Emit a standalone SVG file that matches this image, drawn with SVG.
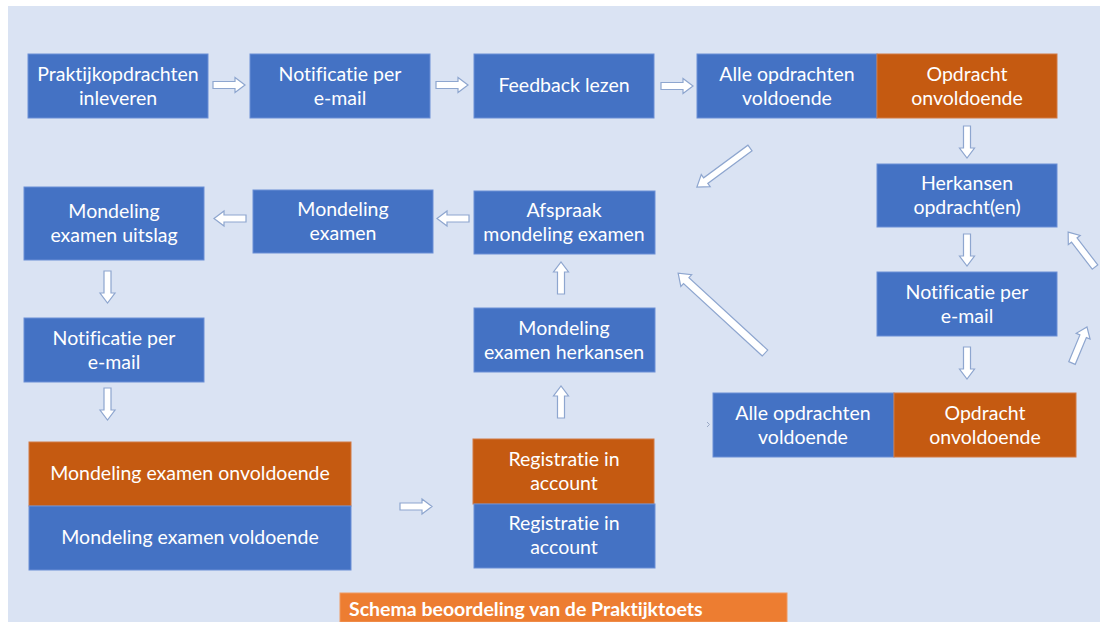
<svg xmlns="http://www.w3.org/2000/svg" width="1100" height="622" viewBox="0 0 1100 622">
<style>
text{font-variant-ligatures:none;font-feature-settings:"liga" 0,"dlig" 0}
.b{fill:#4472c4;stroke:#6b8fd6;stroke-width:1}
.o{fill:#c55a11;stroke:#d27a45;stroke-width:1}
.t{font-family:Lato,"Open Sans","Liberation Sans",sans-serif;font-size:19.5px;fill:#ffffff;text-anchor:middle}
.a{fill:#ffffff;stroke:#8ea6cf;stroke-width:1.2;stroke-linejoin:miter}
</style>
<defs>
<path id="ar" d="M0,-3.5 H22 V-7.5 L32,0 L22,7.5 V3.5 H0 Z"/>
</defs>
<rect x="0" y="0" width="1100" height="622" fill="#ffffff"/>
<rect x="8" y="6" width="1092" height="616" fill="#dae3f3"/>

<g id="n1"><rect class="b" x="28" y="54" width="180" height="64"/><text class="t" x="118" y="81">Praktijkopdrachten</text><text class="t" x="118" y="105">inleveren</text></g>
<g id="n2"><rect class="b" x="250" y="54" width="180" height="64"/><text class="t" x="340" y="81">Notificatie per</text><text class="t" x="340" y="105">e-mail</text></g>
<g id="n3"><rect class="b" x="474" y="54" width="180" height="64"/><text class="t" x="564" y="92">Feedback lezen</text></g>
<g id="n4"><rect class="b" x="697" y="54" width="180" height="64"/><text class="t" x="787" y="81">Alle opdrachten</text><text class="t" x="787" y="105">voldoende</text></g>
<g id="n5"><rect class="o" x="877" y="54" width="180" height="64"/><text class="t" x="967" y="81">Opdracht</text><text class="t" x="967" y="105">onvoldoende</text></g>
<g id="n6"><rect class="b" x="877" y="164" width="180" height="63"/><text class="t" x="967" y="190">Herkansen</text><text class="t" x="967" y="214">opdracht(en)</text></g>
<g id="n7"><rect class="b" x="877" y="272" width="180" height="64"/><text class="t" x="967" y="299">Notificatie per</text><text class="t" x="967" y="323">e-mail</text></g>
<g id="n8"><rect class="b" x="713" y="393" width="181" height="64"/><text class="t" x="803" y="420">Alle opdrachten</text><text class="t" x="803" y="444">voldoende</text></g>
<g id="n9"><rect class="o" x="894" y="393" width="182" height="64"/><text class="t" x="985" y="420">Opdracht</text><text class="t" x="985" y="444">onvoldoende</text></g>
<g id="n10"><rect class="b" x="474" y="191" width="181" height="63"/><text class="t" x="564" y="217">Afspraak</text><text class="t" x="564" y="241">mondeling examen</text></g>
<g id="n11"><rect class="b" x="253" y="190" width="180" height="63"/><text class="t" x="343" y="216">Mondeling</text><text class="t" x="343" y="240">examen</text></g>
<g id="n12"><rect class="b" x="24" y="187" width="180" height="73"/><text class="t" x="114" y="218">Mondeling</text><text class="t" x="114" y="242">examen uitslag</text></g>
<g id="n13"><rect class="b" x="474" y="308" width="181" height="64"/><text class="t" x="564" y="335">Mondeling</text><text class="t" x="564" y="359">examen herkansen</text></g>
<g id="n14"><rect class="b" x="24" y="318" width="180" height="64"/><text class="t" x="114" y="345">Notificatie per</text><text class="t" x="114" y="369">e-mail</text></g>
<g id="n15"><rect class="o" x="29" y="442" width="322" height="64"/><text class="t" x="190" y="480">Mondeling examen onvoldoende</text></g>
<g id="n16"><rect class="b" x="29" y="506" width="322" height="64"/><text class="t" x="190" y="544">Mondeling examen voldoende</text></g>
<g id="n17"><rect class="o" x="473" y="439" width="181" height="65"/><text class="t" x="564" y="466">Registratie in</text><text class="t" x="564" y="490">account</text></g>
<g id="n18"><rect class="b" x="474" y="504" width="181" height="64"/><text class="t" x="564" y="530">Registratie in</text><text class="t" x="564" y="554">account</text></g>
<g id="title"><rect x="340" y="593" width="447" height="29" fill="#ed7d31" stroke="#f09a60" stroke-width="1"/><text x="349" y="616" font-family="Lato,'Open Sans','Liberation Sans',sans-serif" font-size="19.5" font-weight="bold" fill="#ffffff">Schema beoordeling van de Praktijktoets</text></g>

<g id="connectors">
<use href="#ar" class="a" transform="translate(213,85)"/>
<use href="#ar" class="a" transform="translate(436,85)"/>
<use href="#ar" class="a" transform="translate(661,86)"/>
<use href="#ar" class="a" transform="translate(246,218.5) rotate(180)"/>
<use href="#ar" class="a" transform="translate(469,218.5) rotate(180)"/>
<use href="#ar" class="a" transform="translate(967,126) rotate(90)"/>
<use href="#ar" class="a" transform="translate(967,234) rotate(90)"/>
<use href="#ar" class="a" transform="translate(967,347) rotate(90)"/>
<use href="#ar" class="a" transform="translate(107.5,271) rotate(90)"/>
<use href="#ar" class="a" transform="translate(107.5,388) rotate(90)"/>
<use href="#ar" class="a" transform="translate(561,294) rotate(-90)"/>
<use href="#ar" class="a" transform="translate(561,418) rotate(-90)"/>
<use href="#ar" class="a" transform="translate(400,506.5)"/>
<path class="a" transform="translate(750,148) rotate(143.6)" d="M0,-3.5 H55 V-7.5 L66,0 L55,7.5 V3.5 H0 Z"/>
<path class="a" transform="translate(765,353) rotate(-137.4)" d="M0,-4 H107 V-8 L118,0 L107,8 V4 H0 Z"/>
<path class="a" transform="translate(1095,267) rotate(-127.6)" d="M0,-3.5 H34 V-7.5 L44,0 L34,7.5 V3.5 H0 Z"/>
<path class="a" transform="translate(1072,363) rotate(-67.4)" d="M0,-3.5 H29 V-7.5 L39,0 L29,7.5 V3.5 H0 Z"/>
<path d="M707,422 L709.5,424.5 L707,427" fill="none" stroke="#9aa9c6" stroke-width="1"/>
</g>
</svg>
